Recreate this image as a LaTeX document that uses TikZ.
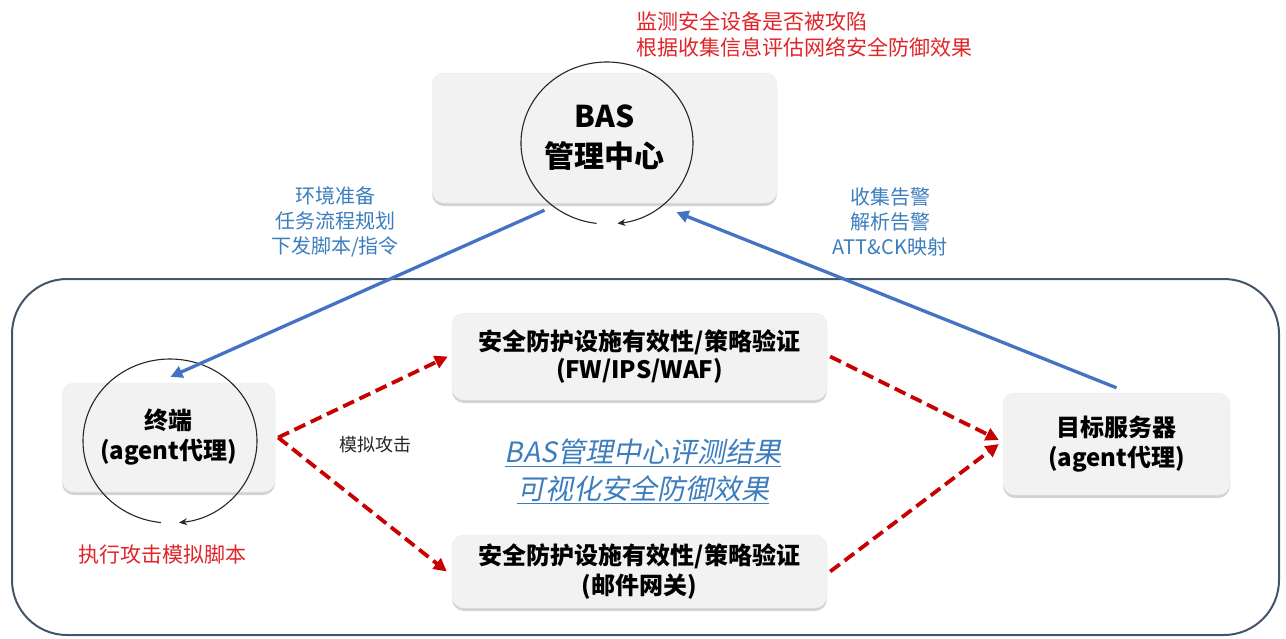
\documentclass[tikz,border=0pt]{standalone}
\usepackage{fontspec}
\setmainfont{Noto Sans CJK SC}
\newfontfamily\cjkit{Noto Sans CJK SC}[FakeSlant=0.2]
\usetikzlibrary{arrows.meta,shadows}
\definecolor{redtxt}{RGB}{224,36,40}
\definecolor{darkred}{RGB}{200,0,0}
\definecolor{bluetxt}{RGB}{60,125,190}
\definecolor{bluearr}{RGB}{68,114,196}
\definecolor{boxgray}{RGB}{242,242,242}
\definecolor{outerc}{RGB}{68,84,106}
\tikzset{
  box/.style={fill=boxgray, draw=gray!15, rounded corners=12pt, align=center,
    font=\fontsize{24}{30}\selectfont\bfseries,
    drop shadow={shadow xshift=0pt, shadow yshift=-3pt, opacity=0.35, fill=gray}},
  bluearrow/.style={draw=bluearr, line width=3.3pt, -{Triangle[length=12pt,width=12pt]}},
  redarrow/.style={draw=darkred, line width=3.8pt, dash pattern=on 12pt off 6pt,
    -{Triangle[length=13pt,width=13pt]}},
  circarrow/.style={draw=black!85, line width=1.1pt, -{Stealth[length=8pt,width=7pt]}},
  bluelabel/.style={text=bluetxt, align=center, font=\fontsize{20}{25}\selectfont},
  redlabel/.style={text=redtxt, font=\fontsize{21}{26}\selectfont},
}
\begin{document}
\begin{tikzpicture}[x=1pt,y=-1pt]
\useasboundingbox (0,0) rectangle (1286,638);
% outer frame
\draw[draw=outerc, line width=2pt, rounded corners=55pt] (12,279) rectangle (1279,635);
% boxes
\node[box, minimum width=345pt, minimum height=130pt, font=\fontsize{30}{40}\selectfont\bfseries] (bas) at (604.5,138) {BAS\\管理中心};
\node[box, minimum width=213pt, minimum height=109pt] (term) at (168.5,437.5) {终端\\(agent代理)};
\node[box, minimum width=375pt, minimum height=87pt, font=\fontsize{24}{28}\selectfont\bfseries] (fw) at (639.5,356.5) {安全防护设施有效性/策略验证\\(FW/IPS/WAF)};
\node[box, minimum width=375pt, minimum height=73pt, font=\fontsize{24}{30}\selectfont\bfseries] (mail) at (639.5,571.5) {安全防护设施有效性/策略验证\\(邮件网关)};
\node[box, minimum width=227pt, minimum height=102pt] (tgt) at (1116.5,444) {目标服务器\\(agent代理)};
% cycle arcs
\coordinate (bc) at (607,143);
\draw[circarrow] (bc) ++(97:86 and 81) arc[start angle=97, end angle=443, x radius=86, y radius=81];
\coordinate (tc) at (170,441);
\draw[circarrow] (tc) ++(96:87 and 82) arc[start angle=96, end angle=444, x radius=87, y radius=82];
% blue arrows
\draw[bluearrow] ([shift={(-60,7)}]bas.south) -- ([shift={(2,-6)}]term.north);
\draw[bluearrow] ([shift={(0,-5)}]tgt.north) -- ([shift={(72,9)}]bas.south);
% red dashed arrows
\coordinate (rv) at ([xshift=3pt]term.east);
\draw[redarrow] (rv) -- ([xshift=-4pt]fw.west);
\draw[redarrow] (rv) -- ([xshift=-5pt]mail.west);
\draw[redarrow] ([xshift=3pt]fw.east) -- ([shift={(-4,-4)}]tgt.west);
\draw[redarrow] ([xshift=3pt]mail.east) -- ([shift={(-4,0)}]tgt.west);
% labels
\node[redlabel, align=left, anchor=west] (lt) at (633,34) {监测安全设备是否被攻陷\\根据收集信息评估网络安全防御效果};
\node[bluelabel] (lb1) at (335,222) {环境准备\\任务流程规划\\下发脚本/指令};
\node[bluelabel] (lb2) at (890,222) {收集告警\\解析告警\\ATT\&CK映射};
\node[redlabel] (lexe) at (162,555) {执行攻击模拟脚本};
\node[text=black!85, font=\fontsize{18}{22}\selectfont] (lsim) at (375,445) {模拟攻击};
\node[text=bluetxt, align=center, font=\fontsize{28}{37}\selectfont\cjkit] (lres) at (643,471)
  {\underline{BAS管理中心评测结果}\\\underline{可视化安全防御效果}};
\end{tikzpicture}
\end{document}
